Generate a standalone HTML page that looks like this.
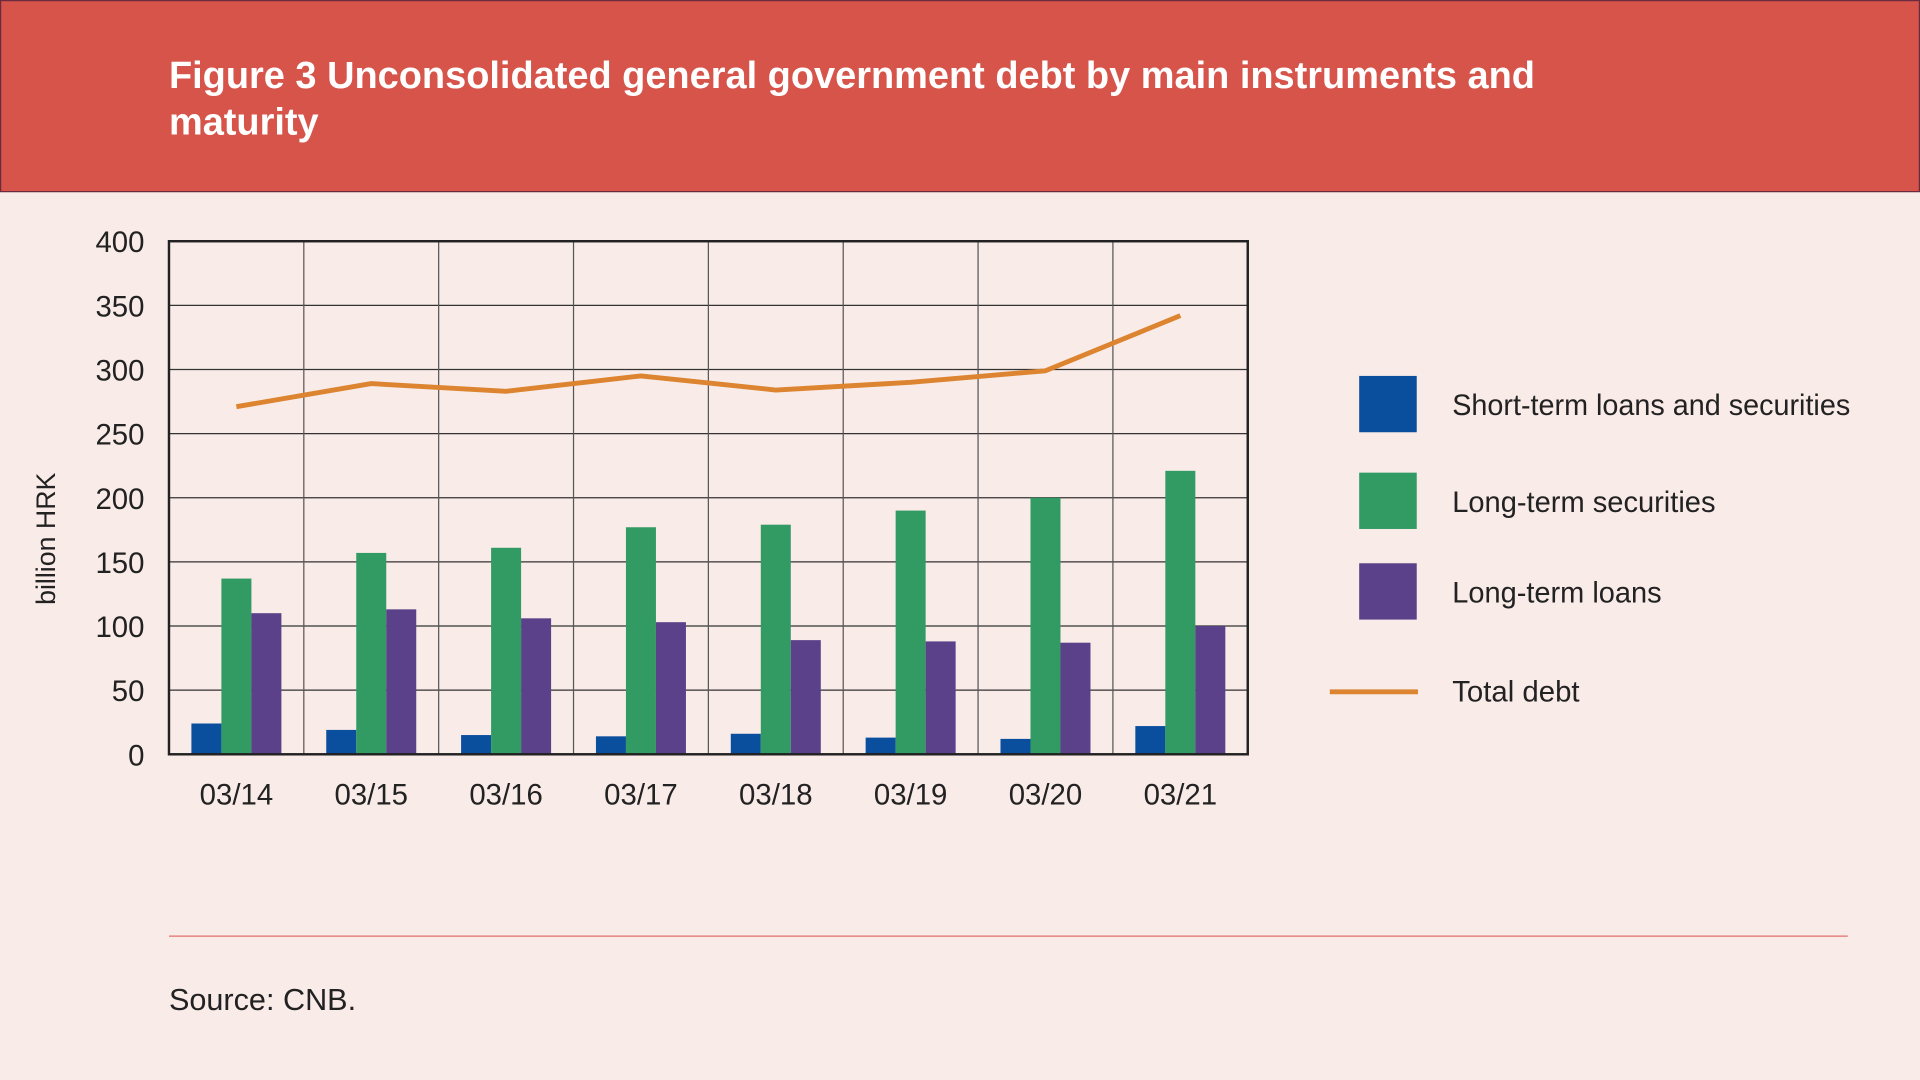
<!DOCTYPE html>
<html><head><meta charset="utf-8"><style>
html,body{margin:0;padding:0;background:#f9ebe8;}
svg{display:block;font-family:"Liberation Sans",sans-serif;}
</style></head><body>
<svg id="chart" width="1920" height="1080" viewBox="0 0 1568 882" xmlns="http://www.w3.org/2000/svg">
<rect x="0" y="0" width="1568" height="882" fill="#f9ebe8"/>
<rect x="0.5" y="0.5" width="1567" height="156" fill="#d6544a" stroke="#6a2a40" stroke-width="1"/>
<text x="138" y="72" fill="#fff" font-size="31" font-weight="bold">Figure 3 Unconsolidated general government debt by main instruments and</text>
<text x="138" y="110" fill="#fff" font-size="31" font-weight="bold">maturity</text>
<g id="grid"></g>
<g id="bars"></g>
<g id="line"></g>
<rect x="138" y="197" width="881" height="419" fill="none" stroke="#222" stroke-width="2"/>
<g id="yticks"></g>
<g id="xticks"></g>
<text transform="translate(45,440) rotate(-90)" text-anchor="middle" font-size="22" fill="#222" textLength="108" lengthAdjust="spacingAndGlyphs">billion HRK</text>
<g>
<rect x="1110" y="307" width="47" height="46" fill="#0a4e9e"/>
<text x="1186" y="339" font-size="24" fill="#222" textLength="325" lengthAdjust="spacingAndGlyphs">Short-term loans and securities</text>
<rect x="1110" y="386" width="47" height="46" fill="#329a63"/>
<text x="1186" y="418" font-size="24" fill="#222" textLength="215" lengthAdjust="spacingAndGlyphs">Long-term securities</text>
<rect x="1110" y="460" width="47" height="46" fill="#5a4189"/>
<text x="1186" y="492" font-size="24" fill="#222" textLength="171" lengthAdjust="spacingAndGlyphs">Long-term loans</text>
<line x1="1086" y1="565" x2="1158" y2="565" stroke="#dc8430" stroke-width="4"/>
<text x="1186" y="573" font-size="24" fill="#222" textLength="104" lengthAdjust="spacingAndGlyphs">Total debt</text>
</g>
<line x1="138" y1="764.5" x2="1509" y2="764.5" stroke="#e0706a" stroke-width="1"/>
<text x="138" y="825" font-size="25" fill="#222">Source: CNB.</text>
</svg>
<script>
const categories=["03/14","03/15","03/16","03/17","03/18","03/19","03/20","03/21"];
const shortTerm=[24,19,15,14,16,13,12,22];
const longSecurities=[137,157,161,177,179,190,200,221];
const longLoans=[110,113,106,103,89,88,87,100];
const totalDebt=[271,289,283,295,284,290,299,342];
const yTicks=[0,50,100,150,200,250,300,350,400];

const NS="http://www.w3.org/2000/svg";
const L=138,R=1019,T=197,B=616,YMAX=400;
const bw=(R-L)/categories.length;
const y=v=>B-(v/YMAX)*(B-T);
const xc=i=>L+bw*(i+0.5);
function mk(tag,attrs,parent){const e=document.createElementNS(NS,tag);for(const k in attrs)e.setAttribute(k,attrs[k]);parent.appendChild(e);return e;}
const grid=document.getElementById('grid'),bars=document.getElementById('bars'),line=document.getElementById('line'),yt=document.getElementById('yticks'),xt=document.getElementById('xticks');
yTicks.forEach(v=>{
  const g=mk('line',{x1:L,x2:R,y1:y(v),y2:y(v),stroke:'#333','stroke-width':1},grid);
  
  
  const t=mk('text',{x:118,y:y(v)+9,'text-anchor':'end','font-size':24,fill:'#222'},yt);
  t.textContent=v;
  
  
});
for(let i=1;i<categories.length;i++){
  const g=mk('line',{x1:L+bw*i,x2:L+bw*i,y1:T,y2:B,stroke:'#555','stroke-width':1},grid);
  
  
}
const series=[[shortTerm,'#0a4e9e','bar-short-term'],[longSecurities,'#329a63','bar-long-term-securities'],[longLoans,'#5a4189','bar-long-term-loans']];
const bwid=24.5;
categories.forEach((c,i)=>{
  series.forEach((s,j)=>{
    const v=s[0][i];
    const r=mk('rect',{x:xc(i)+(j-1.5)*bwid,y:y(v),width:bwid,height:B-y(v),fill:s[1]},bars);
    
    
  });
  const t=mk('text',{x:xc(i),y:657,'text-anchor':'middle','font-size':24,fill:'#222'},xt);
  t.textContent=c;
  
  
});
const p=mk('polyline',{points:totalDebt.map((v,i)=>xc(i)+','+y(v)).join(' '),fill:'none',stroke:'#dc8430','stroke-width':4,'stroke-linejoin':'round'},line);


</script>
</body></html>
